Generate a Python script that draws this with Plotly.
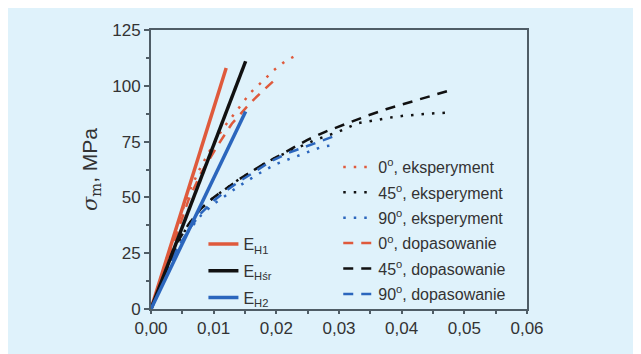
import plotly.graph_objects as go

# ---- data ----
eh_strain = [0.0, 0.012]
eh1_stress = [0.0, 108.0]
ehsr_strain = [0.0, 0.0151]
ehsr_stress = [0.0, 111.0]
eh2_strain = [0.0, 0.0151]
eh2_stress = [0.0, 88.5]

exp0_strain = [0.0, 0.002, 0.004, 0.006, 0.008, 0.0100, 0.0115, 0.0129, 0.0143, 0.0159, 0.0178, 0.0196, 0.0214, 0.0234]
exp0_stress = [0.0, 18, 36, 52, 64, 74, 81, 86, 91, 97, 102, 107, 111, 114]
fit0_strain = [0.0, 0.002, 0.004, 0.006, 0.008, 0.0107, 0.0129, 0.0159, 0.0187, 0.0195]
fit0_stress = [0.0, 16, 33, 49, 61, 73.5, 83, 92.5, 100, 102]

exp45_strain = [0.0, 0.002, 0.004, 0.006, 0.008, 0.010, 0.012, 0.014, 0.016, 0.018, 0.020, 0.022, 0.024,
                0.026, 0.028, 0.030, 0.0329, 0.0347, 0.0366, 0.0385, 0.0404, 0.0423, 0.0443, 0.0461, 0.048]
exp45_stress = [0.0, 15, 28, 38, 45, 50, 54, 58, 61.5, 65, 68, 70.5, 73, 75.5, 77.5, 79.5,
                83.2, 84.1, 85, 85.9, 86.6, 87.2, 87.5, 87.8, 88.1]
fit45_strain = [0.0, 0.002, 0.004, 0.006, 0.008, 0.010, 0.012, 0.014, 0.016, 0.018, 0.020, 0.0249,
                0.0278, 0.0313, 0.0345, 0.0375, 0.0407, 0.0437, 0.0475]
fit45_stress = [0.0, 16, 29, 38, 45, 50, 54, 58, 61.5, 65, 68, 75.7, 79.4, 83.2, 86.6, 89.5, 92.2, 94.9, 97.8]

exp90_strain = [0.0, 0.002, 0.004, 0.006, 0.008, 0.010, 0.012, 0.014, 0.016, 0.018, 0.020, 0.022,
                0.0238, 0.0273, 0.0295]
exp90_stress = [0.0, 14, 26, 35, 42, 47, 51, 55, 58.5, 62, 65, 67, 69, 72.7, 73.5]
fit90_strain = [0.0, 0.002, 0.004, 0.006, 0.008, 0.010, 0.012, 0.014, 0.016, 0.019, 0.022, 0.0254, 0.0286, 0.0298]
fit90_stress = [0.0, 14, 26, 35.5, 43, 48.5, 53, 57, 60.5, 66, 70, 73.5, 76.9, 78]

x_ticks = [0.0, 0.01, 0.02, 0.03, 0.04, 0.05, 0.06]
y_ticks = [0, 25, 50, 75, 100, 125]

RED = "#df5a3c"
BLACK = "#111111"
BLUE = "#2b66bd"
BG = "#dff2fb"
TXT = "#333333"
AX = "#4f5d66"

# page has an 8px body margin; plot area target in window px: x 150.5..527, y 30..309
OFF = 8
L, T = 150.5 - OFF, 30 - OFF
PW, PH = 376.5, 279

fig = go.Figure()

def add(x, y, name, color, dash, width, legend):
    fig.add_trace(go.Scatter(x=x, y=y, mode="lines", name=name,
                             line=dict(color=color, dash=dash, width=width),
                             legend=legend, legendgroup=name, showlegend=True))

add(exp0_strain, exp0_stress, "0<sup>o</sup>, eksperyment", RED, "2.5px,8px", 2.5, "legend2")
add(exp45_strain, exp45_stress, "45<sup>o</sup>, eksperyment", BLACK, "2.5px,8px", 2.5, "legend2")
add(exp90_strain, exp90_stress, "90<sup>o</sup>, eksperyment", BLUE, "2.5px,8px", 2.5, "legend2")
add(fit0_strain, fit0_stress, "0<sup>o</sup>, dopasowanie", RED, "10px,8px", 2.5, "legend2")
add(fit45_strain, fit45_stress, "45<sup>o</sup>, dopasowanie", BLACK, "10px,8px", 2.5, "legend2")
add(fit90_strain, fit90_stress, "90<sup>o</sup>, dopasowanie", BLUE, "10px,8px", 2.5, "legend2")

add(eh_strain, eh1_stress, "E<sub>H1</sub>", RED, "solid", 3.5, "legend")
add(ehsr_strain, ehsr_stress, "E<sub>Hśr</sub>", BLACK, "solid", 3.5, "legend")
add(eh2_strain, eh2_stress, "E<sub>H2</sub>", BLUE, "solid", 3.5, "legend")

axis_common = dict(showline=True, linecolor=AX, linewidth=2, mirror=True,
                   ticks="outside", ticklen=5, tickcolor=AX, tickwidth=1.5,
                   showgrid=False, zeroline=False,
                   tickfont=dict(family="Liberation Sans, Arial, sans-serif", size=17, color=TXT))

def px_x(p):
    return (p - OFF - L) / PW

def px_y(p):
    return (T + PH - (p - OFF)) / PH

fig.update_layout(
    width=641, height=354,
    margin=dict(l=L, r=641 - L - PW, t=T, b=354 - T - PH),
    paper_bgcolor=BG, plot_bgcolor=BG,
    separators=",.",
    font=dict(family="Liberation Sans, Arial, sans-serif", color=TXT),
    xaxis=dict(range=[0, 0.06], tickvals=x_ticks, tickformat=".2f",
               minor=dict(dtick=0.005, ticks="outside", ticklen=3, tickcolor=AX),
               **{**axis_common, "ticklen": 3}),
    yaxis=dict(range=[0, 125], tickvals=y_ticks,
               minor=dict(dtick=12.5, ticks="outside", ticklen=3, tickcolor=AX),
               title=dict(text="<i><span style=\"font-family:'DejaVu Serif'\">σ</span></i>"
                               "<sub><span style=\"font-family:'DejaVu Serif'\">m</span></sub>, MPa",
                          font=dict(size=21, color=TXT), standoff=9),
               **axis_common),
    legend=dict(x=px_x(203), y=px_y(227), xanchor="left", yanchor="top",
                bgcolor="rgba(0,0,0,0)", font=dict(size=16, color=TXT), itemwidth=30,
                tracegroupgap=3),
    legend2=dict(x=px_x(338), y=px_y(150), xanchor="left", yanchor="top",
                 bgcolor="rgba(0,0,0,0)", font=dict(size=16, color=TXT), itemwidth=30,
                 tracegroupgap=1.6),
)

fig.write_html("out.html")
